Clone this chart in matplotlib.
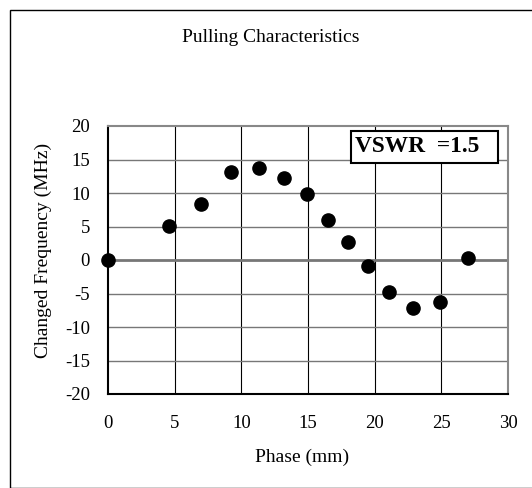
import matplotlib.pyplot as plt
from matplotlib.patches import Rectangle

phase = [0.0, 4.6, 7.0, 9.25, 11.35, 13.2, 14.95, 16.5, 18.0, 19.5, 21.1, 22.9, 24.9, 27.0]
freq = [0.0, 5.1, 8.4, 13.1, 13.7, 12.2, 9.9, 6.0, 2.7, -0.9, -4.8, -7.2, -6.3, 0.3]
xticks = [0, 5, 10, 15, 20, 25, 30]
yticks = [-20, -15, -10, -5, 0, 5, 10, 15, 20]

plt.rcParams['font.family'] = ['Liberation Serif', 'DejaVu Serif']
plt.rcParams['axes.unicode_minus'] = False
W, H = 532, 488
fig = plt.figure(figsize=(W/100, H/100), dpi=100)

# outer chart frame (runs off the right and bottom edge)
fig.patches.append(Rectangle((9.5/W, 0), 1, 1 - 9.5/H, transform=fig.transFigure,
                             fill=False, edgecolor='black', lw=1.0))

ax = fig.add_axes([108/W, 1 - 394/H, 400/W, 268/H])
ax.set_xlim(0, 30)
ax.set_ylim(-20, 20)
ax.set_xticks(xticks)
ax.set_yticks(yticks)
ax.tick_params(length=0, labelsize=13.5)
ax.tick_params(axis='x', pad=15)
ax.tick_params(axis='y', pad=13)

for gx in xticks[1:-1]:
    ax.axvline(gx, color='black', lw=0.8, zorder=1)
for gy in yticks[1:-1]:
    ax.axhline(gy, color='#777777', lw=2.0 if gy == 0 else 1.0, zorder=1)

ax.spines['left'].set_color('black')
ax.spines['bottom'].set_color('black')
ax.spines['left'].set_linewidth(1.5)
ax.spines['bottom'].set_linewidth(1.5)
ax.spines['top'].set_color('#888888')
ax.spines['right'].set_color('#888888')
ax.spines['top'].set_linewidth(1.5)
ax.spines['right'].set_linewidth(1.5)

ax.plot(phase, freq, 'o', color='black', ms=9.5, clip_on=False, zorder=3)

fig.text(271/W, 1 - 37/H, 'Pulling Characteristics', ha='center', va='center', fontsize=14)
fig.text(302/W, 1 - 457/H, 'Phase (mm)', ha='center', va='center', fontsize=14)
fig.text(43/W, 1 - 250/H, 'Changed Frequency (MHz)', ha='center', va='center',
         rotation=90, fontsize=14)

# VSWR label box
fig.patches.append(Rectangle((351/W, 1 - 163/H), 147/W, 32/H, transform=fig.transFigure,
                             facecolor='white', edgecolor='black', lw=1.5, zorder=5))
fig.text(355/W, 1 - 147/H, 'VSWR  =1.5', ha='left', va='center', fontsize=16.8,
         fontweight='bold', zorder=6)

fig.savefig('out.png', dpi=100)
